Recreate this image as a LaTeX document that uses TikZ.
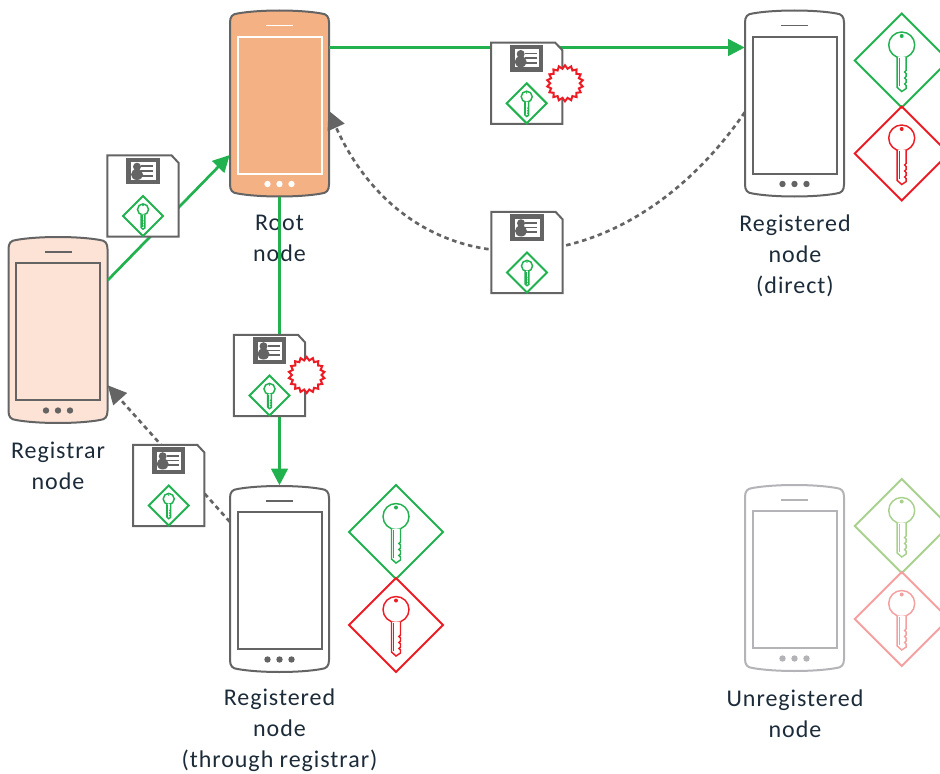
\documentclass[tikz,border=0pt]{standalone}
\usepackage{fontspec}
\setmainfont[LetterSpace=4]{Carlito}
\usetikzlibrary{arrows.meta,shapes.geometric}

\definecolor{linegray}{HTML}{646464}
\definecolor{fadegray}{HTML}{B4B4B8}
\definecolor{certgreen}{HTML}{21B14F}
\definecolor{certred}{HTML}{ED1C24}
\definecolor{fadegreen}{HTML}{A9D18E}
\definecolor{fadered}{HTML}{F4A0A0}
\definecolor{rootfill}{HTML}{F4B183}
\definecolor{regfill}{HTML}{FDE3D5}
\definecolor{labelcol}{HTML}{1C2B39}

\tikzset{
	% #1 fill, #2 outline, #3 screen and buttons
	pics/phone/.style n args={3}{code={
		\node[minimum width=74.25pt,minimum height=140.25pt,inner sep=0pt] (-body) {};
		\draw[#2,line width=1.5pt,fill=#1]
			(-49.5,-81) .. controls (-49.5,-87) and (-47,-89.5) .. (-42,-90)
			.. controls (-20,-94) and (20,-94) .. (42,-90)
			.. controls (47,-89.5) and (49.5,-87) .. (49.5,-81) -- (49.5,81)
			.. controls (49.5,87) and (47,89.5) .. (42,90)
			.. controls (20,94) and (-20,94) .. (-42,90)
			.. controls (-47,89.5) and (-49.5,87) .. (-49.5,81) -- cycle;
		\draw[#3,line width=1.5pt] (-42,-66.8) rectangle (42,70.2);
		\draw[#3,line width=1.2pt] (-13.5,-78) -- (13.5,-78);
		\foreach \dotx in {-12,0,12}
			\fill[#3] (\dotx,80.5) circle (3.2);
	}},
	pics/keymark/.style={code={
		\draw[#1,line width=1.5pt,line join=miter] (0,-47) -- (47,0) -- (0,47) -- (-47,0) -- cycle;
		\draw[#1,line width=1.1pt,fill=white] (0,-15.5) circle (13);
		\draw[#1,line width=1.1pt,fill=white] (-4.5,-3.5) -- (-4.5,27) -- (0,31) -- (4.5,28) -- (4.5,25)
			-- (3,23.5) -- (4.5,22) -- (4.5,19) -- (3,17.5) -- (4.5,16) -- (4.5,13) -- (3,11.5)
			-- (4.5,10) -- (4.5,-3.5);
		\draw[#1,line width=.8pt] (-2.2,-2) -- (-2.2,26);
		\fill[#1] (0,-24.5) circle (2);
	}},
	pics/cert/.style={code={
		\node[minimum width=53.5pt,minimum height=61pt,inner sep=0pt] (-body) {};
		\draw[linegray,line width=1.5pt,fill=white]
			(-35.7,-40.7) -- (28.5,-40.7) -- (35.7,-33) -- (35.7,40.7) -- (-35.7,40.7) -- cycle;
		\fill[linegray] (-17,-38.3) rectangle (16.5,-11.6);
		\fill[white] (-11.7,-34) rectangle (12.6,-16);
		\fill[linegray] (-6,-29.3) circle (4);
		\fill[linegray] (-6,-21.5) ellipse (6 and 5.5);
		\fill[linegray] (-11.7,-16) rectangle (16.5,-11.6);
		\foreach \liney in {-29.8,-25,-20.2}
			\draw[linegray,line width=1.3pt] (-1.7,\liney) -- (10,\liney);
		\pic[scale=.4255] at (0,20) {keymark=certgreen};
	}},
	burst/.style={star,star points=18,star point ratio=1.22,draw=certred,fill=white,
		line width=1.5pt,minimum size=27pt,inner sep=0pt},
	greenline/.style={->,certgreen,line width=2pt},
	dashline/.style={-{Triangle[length=14pt,width=13.5pt]},linegray,line width=2pt,
		dash pattern=on 3.4pt off 2.8pt},
	nodetext/.style={align=center,text=labelcol,inner sep=0pt,
		font=\fontsize{18}{23.2}\selectfont}
}

\begin{document}
\begin{tikzpicture}[x=.75pt,y=-.75pt,>={Triangle[length=12.5pt,width=12.5pt]}]
	\clip (0,0) rectangle (940,774);

	\pic (root) at (279.5,103.5) {phone={rootfill}{linegray}{white}};
	\pic (registrar) at (58,330) {phone={regfill}{linegray}{linegray}};
	\pic (direct) at (794.5,103.5) {phone={white}{linegray}{linegray}};
	\pic (through) at (279.5,579) {phone={white}{linegray}{linegray}};
	\pic (unreg) at (794.5,578) {phone={white}{fadegray}{fadegray}};

	\pic at (901.7,60.5) {keymark=certgreen};
	\pic at (901.7,153.5) {keymark=certred};
	\pic at (396,532) {keymark=certgreen};
	\pic at (396,625) {keymark=certred};
	\pic at (901.7,526) {keymark=fadegreen};
	\pic at (901.7,619) {keymark=fadered};

	\node[nodetext] (rootlabel) at (279.5,238.5) {Root\\node};
	\node[nodetext] (registrarlabel) at (58,465.5) {Registrar\\node};
	\node[nodetext] (directlabel) at (795,255.5) {Registered\\node\\(direct)};
	\node[nodetext] (throughlabel) at (279.5,730.5) {Registered\\node\\(through registrar)};
	\node[nodetext] (unreglabel) at (795,713.5) {Unregistered\\node};

	\draw[greenline] ([yshift=42pt]root-body.east) -- ([yshift=42pt]direct-body.west);
	\draw[greenline] (registrar-body.45) -- (root-body.226.7);
	\draw[greenline] (root-body.south) -- (through-body.north);
	\draw[dashline,shorten >=-1.5pt] (direct-body.190.9) .. controls (620,294) and (412,296) .. (root-body.-10.9);
	\draw[dashline] (through-body.131.5) -- (registrar-body.-48.4);

	\pic (offerdirect) at (526.7,83.3) {cert};
	\pic (replydirect) at (527,252.5) {cert};
	\pic (offerroot) at (143,196) {cert};
	\pic (offerthrough) at (269.5,375.5) {cert};
	\pic (replythrough) at (168.7,485.5) {cert};
	\node[burst] (burstdirect) at (565,83.3) {};
	\node[burst] (burstthrough) at (306.7,375) {};
\end{tikzpicture}
\end{document}
